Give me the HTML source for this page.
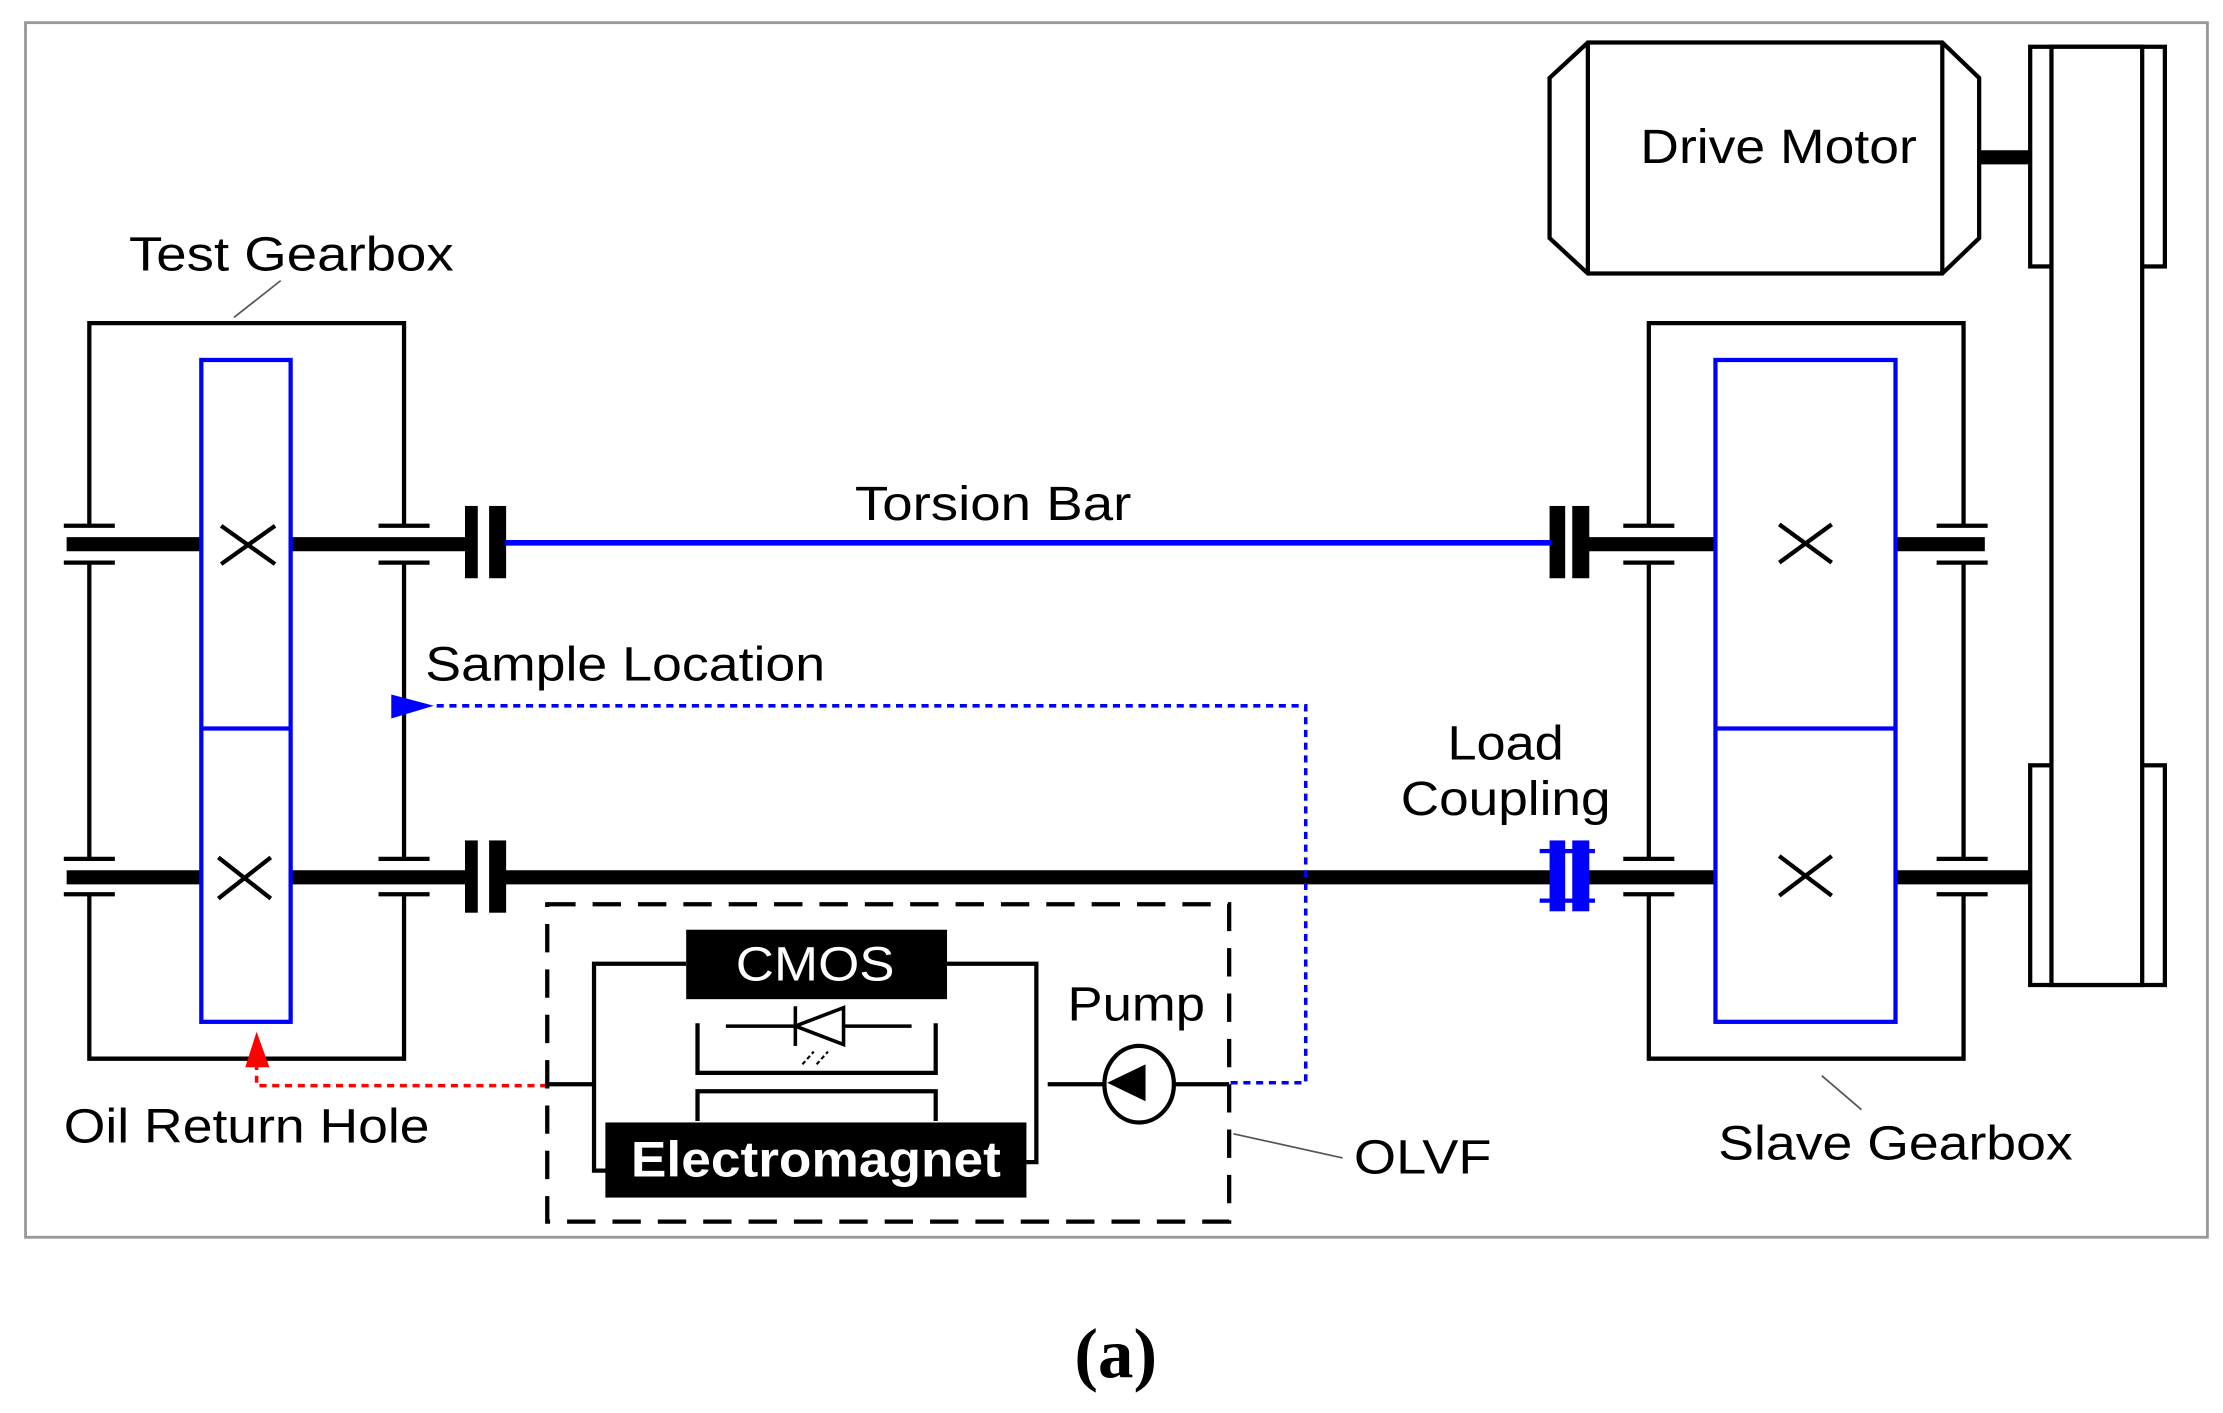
<!DOCTYPE html>
<html><head><meta charset="utf-8"><style>html,body{margin:0;padding:0;background:#fff}svg{display:block}</style></head>
<body>
<svg width="2223" height="1413" viewBox="0 0 1568 997" preserveAspectRatio="none" xmlns="http://www.w3.org/2000/svg" font-family="Liberation Sans, Arial, sans-serif">
<rect x="0" y="0" width="1568" height="997" fill="#fff"/>
<rect x="18" y="16" width="1539" height="857" fill="none" stroke="#999" stroke-width="2"/>

<g stroke="#000" stroke-width="3" fill="none">
<polyline points="63,370 63,228 285,228 285,370"/>
<line x1="63" y1="397" x2="63" y2="605"/>
<line x1="285" y1="397" x2="285" y2="605"/>
<polyline points="63,631 63,747 285,747 285,631"/>
<line x1="45" y1="371" x2="81" y2="371"/><line x1="45" y1="397" x2="81" y2="397"/>
<line x1="267" y1="371" x2="303" y2="371"/><line x1="267" y1="397" x2="303" y2="397"/>
<line x1="45" y1="606" x2="81" y2="606"/><line x1="45" y1="631" x2="81" y2="631"/>
<line x1="267" y1="606" x2="303" y2="606"/><line x1="267" y1="631" x2="303" y2="631"/>
</g>
<g stroke="#000" stroke-width="10">
<line x1="47" y1="384" x2="142" y2="384"/><line x1="205" y1="384" x2="330" y2="384"/>
<line x1="47" y1="619" x2="142" y2="619"/><line x1="205" y1="619" x2="330" y2="619"/>
<line x1="356" y1="619" x2="1095" y2="619"/>
<line x1="1120" y1="384" x2="1210" y2="384"/><line x1="1120" y1="619" x2="1210" y2="619"/>
<line x1="1337" y1="384" x2="1400" y2="384"/><line x1="1337" y1="619" x2="1432" y2="619"/>
<line x1="1396" y1="111" x2="1432" y2="111"/>
</g>
<g fill="#000">
<rect x="328" y="357" width="9" height="51"/><rect x="345" y="357" width="12" height="51"/>
<rect x="328" y="593" width="9" height="51"/><rect x="345" y="593" width="12" height="51"/>
<rect x="1093" y="357" width="11" height="51"/><rect x="1109" y="357" width="12" height="51"/>
</g>
<line x1="356" y1="383" x2="1094" y2="383" stroke="#00f" stroke-width="4"/>
<g fill="#00f">
<rect x="1093" y="593" width="11" height="50"/><rect x="1109" y="593" width="12" height="50"/>
<rect x="1086" y="599" width="39" height="3"/><rect x="1086" y="634" width="39" height="3"/>
</g>
<g stroke="#00f" stroke-width="3" fill="none">
<rect x="142" y="254" width="63" height="467"/><line x1="142" y1="514" x2="205" y2="514"/>
<rect x="1210" y="254" width="127" height="467"/><line x1="1210" y1="514" x2="1337" y2="514"/>
</g>
<g stroke="#000" stroke-width="3">
<line x1="156" y1="371" x2="194" y2="398"/><line x1="156" y1="398" x2="194" y2="371"/>
<line x1="154" y1="605" x2="191" y2="634"/><line x1="154" y1="634" x2="191" y2="605"/>
<line x1="1255" y1="370" x2="1292" y2="397"/><line x1="1255" y1="397" x2="1292" y2="370"/>
<line x1="1255" y1="604" x2="1292" y2="632"/><line x1="1255" y1="632" x2="1292" y2="604"/>
</g>
<g stroke="#000" stroke-width="3" fill="none">
<polyline points="1163,370 1163,228 1385,228 1385,370"/>
<line x1="1163" y1="397" x2="1163" y2="605"/>
<line x1="1385" y1="397" x2="1385" y2="605"/>
<polyline points="1163,631 1163,747 1385,747 1385,631"/>
<line x1="1145" y1="371" x2="1181" y2="371"/><line x1="1145" y1="397" x2="1181" y2="397"/>
<line x1="1366" y1="371" x2="1402" y2="371"/><line x1="1366" y1="397" x2="1402" y2="397"/>
<line x1="1145" y1="606" x2="1181" y2="606"/><line x1="1145" y1="631" x2="1181" y2="631"/>
<line x1="1366" y1="606" x2="1402" y2="606"/><line x1="1366" y1="631" x2="1402" y2="631"/>
<polygon points="1093,55 1120,30 1370,30 1396,55 1396,168 1370,193 1120,193 1093,168"/>
<line x1="1120" y1="30" x2="1120" y2="193"/><line x1="1370" y1="30" x2="1370" y2="193"/>
<rect x="1432" y="33" width="95" height="155"/>
<rect x="1432" y="540" width="95" height="155"/>
<rect x="1447" y="33" width="64" height="662" fill="#fff"/>
</g>
<polyline points="868,764 921,764 921,498 306,498" fill="none" stroke="#00f" stroke-width="2.5" stroke-dasharray="5,4"/>
<polygon points="276,490 306,498 276,507" fill="#00f"/>
<polyline points="386,766 181,766 181,748" fill="none" stroke="#f00" stroke-width="2.5" stroke-dasharray="5,4"/>
<polygon points="173,753 181,728 190,753" fill="#f00"/>
<rect x="386" y="638" width="481" height="224" fill="none" stroke="#000" stroke-width="3" stroke-dasharray="20,12"/>
<g stroke="#000" stroke-width="3" fill="none">
<line x1="386" y1="765" x2="419" y2="765"/>
<polyline points="484,680 419,680 419,826 428,826"/>
<polyline points="668,680 731,680 731,820 724,820"/>
<polyline points="492,722 492,757 660,757 660,722"/>
<polyline points="492,791 492,770 660,770 660,791"/>
<line x1="512" y1="724" x2="643" y2="724" stroke-width="2.5"/>
<line x1="561" y1="710" x2="561" y2="738" stroke-width="2.5"/>
<polygon points="561,724 595,711 595,737" stroke-width="2.5" fill="#fff"/>
<line x1="566" y1="751" x2="574" y2="742" stroke-width="1.5" stroke-dasharray="3,2"/>
<line x1="576" y1="751" x2="584" y2="742" stroke-width="1.5" stroke-dasharray="3,2"/>
<line x1="739" y1="765" x2="779" y2="765"/>
<line x1="828" y1="765" x2="867" y2="765"/>
<ellipse cx="803.5" cy="765" rx="24.5" ry="27"/>
</g>
<polygon points="781,764 808,751 808,777" fill="#000"/>
<rect x="484" y="656" width="184" height="49" fill="#000"/>
<rect x="427" y="792" width="297" height="53" fill="#000"/>
<g stroke="#555" stroke-width="1.2">
<line x1="198" y1="198" x2="165" y2="224"/>
<line x1="870" y1="800" x2="947" y2="817"/>
<line x1="1285" y1="759" x2="1313" y2="783"/>
</g>
<g font-size="34" fill="#000" lengthAdjust="spacingAndGlyphs">
<text x="91" y="191" textLength="229" lengthAdjust="spacingAndGlyphs">Test Gearbox</text>
<text x="603" y="367" textLength="195" lengthAdjust="spacingAndGlyphs">Torsion Bar</text>
<text x="300" y="480" textLength="282" lengthAdjust="spacingAndGlyphs">Sample Location</text>
<text x="1021" y="536" textLength="82" lengthAdjust="spacingAndGlyphs">Load</text>
<text x="988" y="575" textLength="148" lengthAdjust="spacingAndGlyphs">Coupling</text>
<text x="1157" y="115" textLength="195" lengthAdjust="spacingAndGlyphs">Drive Motor</text>
<text x="753" y="720" textLength="97" lengthAdjust="spacingAndGlyphs">Pump</text>
<text x="45" y="806" textLength="258" lengthAdjust="spacingAndGlyphs">Oil Return Hole</text>
<text x="955" y="828" textLength="97" lengthAdjust="spacingAndGlyphs">OLVF</text>
<text x="1212" y="818" textLength="250" lengthAdjust="spacingAndGlyphs">Slave Gearbox</text>
<text x="519" y="692" fill="#fff" textLength="112" lengthAdjust="spacingAndGlyphs">CMOS</text>
<text x="445" y="830" fill="#fff" font-weight="bold" font-size="35" textLength="261" lengthAdjust="spacingAndGlyphs">Electromagnet</text>
</g>
<text x="787" y="972" text-anchor="middle" font-family="Liberation Serif, serif" font-size="50" font-weight="bold">(a)</text>
</svg>
</body></html>
